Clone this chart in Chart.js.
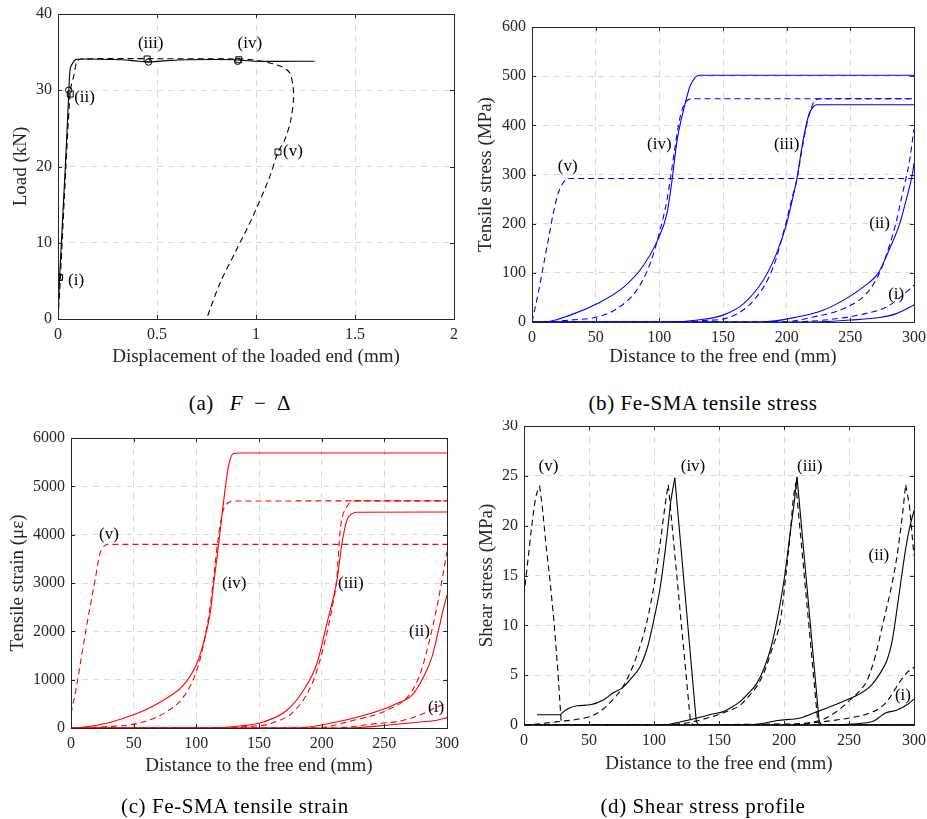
<!DOCTYPE html>
<html>
<head>
<meta charset="utf-8">
<script src="https://cdn.jsdelivr.net/npm/chart.js@4.4.1/dist/chart.umd.min.js"></script>
<style>
  body { margin: 0; background: #fff; width: 927px; height: 819px; position: relative; overflow: hidden; font-family: "Liberation Serif", serif; }
  canvas { position: absolute; }
  .cap { position: absolute; width: 400px; text-align: center; font-size: 21px; letter-spacing: 0.6px; line-height: 24px; color: #000; }
</style>
</head>
<body>
<canvas id="loadChart" width="470" height="380" style="left:0;top:0"></canvas>
<canvas id="stressChart" width="457" height="380" style="left:470px;top:0"></canvas>
<canvas id="strainChart" width="470" height="380" style="left:0;top:420px"></canvas>
<canvas id="shearChart" width="457" height="380" style="left:470px;top:420px"></canvas>
<div class="cap" style="left:40px;top:391px">(a)&ensp;&thinsp;<i>F</i>&thinsp; &minus; &thinsp;&Delta;</div>
<div class="cap" style="left:503px;top:391px">(b) Fe-SMA tensile stress</div>
<div class="cap" style="left:35px;top:794px">(c) Fe-SMA tensile strain</div>
<div class="cap" style="left:503px;top:794px">(d) Shear stress profile</div>
<script>
// stage names used for the annotations in every panel
const stageNames = ['(i)', '(ii)', '(iii)', '(iv)', '(v)'];

// (a) load vs displacement of the loaded end
const loadSolid = [[0,0],[0.008,5.4],[0.037,20],[0.053,28.8],[0.062,32.9],[0.087,34.0],[0.12,34.1],[0.32,34.0],[0.39,33.85],[0.457,33.7],[0.53,33.85],[0.66,34.0],[0.893,34.0],[0.994,33.8],[1.296,33.8]];
const loadDashed = [[0,0],[0.012,5.5],[0.04,20],[0.058,28.5],[0.066,30.5],[0.079,31.8],[0.096,33.8],[0.12,34.1],[0.5,34.14],[0.9,34.1],[0.98,34.0],[1.06,33.65],[1.128,33.1],[1.17,32.3],[1.187,30.5],[1.19,29],[1.175,26],[1.145,23.5],[1.11,21.8],[1.07,18.7],[0.985,13.5],[0.902,9.1],[0.818,4.7],[0.75,0]];
const loadSquares = [[0.008,5.46],[0.062,29.5],[0.45,34.1],[0.913,34.0],[1.111,21.9]];
const loadCircles = [[0.008,5.46],[0.054,30],[0.457,33.7],[0.907,33.8]];
const loadLabelPos = [[0.091,5.0],[0.134,29],[0.468,36.1],[0.969,36.1],[1.187,21.9]];
const loadTicksX = [0, 0.5, 1, 1.5, 2];
const loadTicksY = [0, 10, 20, 30, 40];

// (b) Fe-SMA tensile stress (MPa) vs distance to the free end (mm)
const stressSolidI = [[0,0],[220,0],[250,4],[273,9],[286,17],[296.6,30],[300,35]];
const stressDashedI = [[0,0],[200,0],[230,4],[260,16],[278,30],[289,50],[300,75]];
const stressSolidIi = [[0,0],[180,0],[207.8,10],[228.6,24],[244.3,44],[260,71],[272,100],[281,150],[288.8,200],[294,250],[298.7,300],[300,323]];
const stressDashedIi = [[0,0],[195,0],[220.8,10],[247,30],[262.7,58],[273,100],[280,150],[285.7,200],[290,250],[293.5,290],[296,320],[300,392]];
const stressSolidIii = [[0,0],[109,0],[130,4],[150,14],[166,37],[181.6,85],[192,139],[200,200],[205,255],[208,290],[211,340],[214,384],[217,418],[220,435],[224,442],[300,442]];
const stressDashedIii = [[0,0],[109,0],[135,3],[155.5,10],[176.4,51],[189.5,112],[198.7,194],[204,250],[208,290],[212,350],[216,405],[220,440],[223,452],[227,454],[300,454]];
const stressSolidIv = [[0,0],[9,0],[30,14],[51,37],[72,71],[87.5,115],[98,163],[106,221],[110,289],[114,370],[119,431],[124,479],[128,497],[131,502],[300,502]];
const stressDashedIv = [[0,0],[9,0],[30,4],[51,10],[66.6,27],[82.3,65],[92.8,119],[100.6,187],[106,248],[108.5,289],[112,350],[115,400],[118,433],[121.5,450],[126,454],[300,454]];
const stressDashedV = [[0,0],[5,60],[9,115],[13,170],[17,225],[21,265],[25,285],[28,292],[300,292]];
const stressLabelPos = [[286,56],[273,200],[200,360],[100,360],[28,316]];
const distTicks = [0, 50, 100, 150, 200, 250, 300];
const stressTicks = [0, 100, 200, 300, 400, 500, 600];

// (c) Fe-SMA tensile strain (micro-strain)
const strainSolidI = [[0,0],[220,0],[252,56],[278.7,125],[292,160],[300,215]];
const strainDashedI = [[0,0],[210,0],[238.8,77],[265.4,160],[281.3,298],[292,435],[300,510]];
const strainSolidIi = [[0,0],[180,0],[198.8,56],[238.8,298],[260,505],[273.3,713],[281.3,1058],[288,1470],[293,2000],[297,2450],[300,2750]];
const strainDashedIi = [[0,0],[195,0],[225.4,160],[252,367],[270.7,713],[278.7,1127],[286.7,1887],[292,2509],[296,3062],[300,3650]];
const strainSolidIii = [[0,0],[110,0],[135,40],[153.6,125],[172.2,367],[185.5,782],[196.2,1335],[204.2,2165],[212.2,3062],[216.2,3823],[220.2,4306],[224,4430],[228,4465],[300,4470]];
const strainDashedIii = [[0,0],[110,0],[140,30],[159,90],[180,402],[193.5,989],[201.5,1680],[209.5,2648],[212,3062],[214.8,4099],[220.2,4582],[224,4680],[228,4700],[300,4700]];
const strainSolidIv = [[0,0],[8,10],[30,110],[52.5,298],[73.7,574],[89.7,885],[100.4,1335],[105.6,1750],[111,2372],[114.2,3062],[117.6,3753],[121.6,4653],[125.6,5412],[129.6,5680],[133,5690],[300,5690]];
const strainDashedIv = [[0,0],[30,30],[52.5,90],[73.7,298],[89.7,643],[100.4,1196],[107,1887],[111,2509],[113.6,3062],[117.6,3960],[121.6,4514],[125,4650],[129,4695],[300,4700]];
const strainDashedV = [[0,300],[4,800],[8.5,1500],[13.8,2300],[19.2,3060],[23,3600],[26,3750],[29,3800],[300,3800]];
const strainLabelPos = [[291.3,423],[278,2005],[223.3,2994],[130.2,2994],[30.3,3995]];
const strainTicks = [0, 1000, 2000, 3000, 4000, 5000, 6000];

// (d) shear stress profile (MPa)
const shearSolidI = [[0,0],[230,0],[256,0.13],[265,0.25],[269,0.4],[273,0.75],[278,1.2],[287,1.5],[294.6,2.03],[300,2.6]];
const shearDashedI = [[0,0],[200,0],[228,0.3],[254,0.8],[266,1.2],[274.7,1.8],[280,2.5],[285,3.5],[290,4.5],[295,5.3],[300,5.8]];
const shearSolidIi = [[0,0],[175,0],[182,0.13],[195,0.45],[212.6,0.7],[222.8,1.2],[235,1.8],[248.5,2.54],[258,3.1],[266.4,3.87],[273,5.0],[279.2,6.5],[283,8.3],[285.7,10.5],[290,14.5],[294,18],[297,20],[300,21.5]];
const shearDashedIi = [[0,0],[200,0.1],[228.5,0.5],[240,1.3],[251,2.54],[258,3.4],[264,4.5],[270,6.8],[276.7,10.5],[282,13.5],[287,17],[291,21],[293.6,24.1],[296.5,22],[300,17]];
const shearSolidIii = [[0,0],[107.5,0],[120,0.3],[138,0.86],[145,1.1],[153.6,1.36],[160,1.8],[166.4,2.37],[172,3.1],[179.2,4.2],[185,5.8],[190,7.8],[194.6,10.5],[200,14.5],[205,19.5],[208,22.5],[210,24.9],[227,0.4],[229,0],[300,0]];
const shearDashedIii = [[0,0],[100,0],[125,0.2],[141,0.7],[155,1.3],[166.4,2.0],[173,2.9],[179.2,3.9],[185,5.4],[191,7.7],[197.2,10.5],[201,14.5],[205,19.5],[207,22.5],[209,24.3],[226,0.3],[228,0],[300,0]];
const shearSolidIv = [[10,1.03],[28,1.03],[29.2,1.2],[35,1.7],[40.8,1.93],[51,2.03],[61.3,2.54],[69,3.27],[75.4,3.7],[82,4.6],[89.5,5.9],[95,7.8],[99.8,10.5],[105,14],[110,19],[113,22.5],[116,24.8],[132.5,0.4],[134,0],[300,0]];
const shearDashedIv = [[0,0],[10,0.1],[28,0.36],[40,0.55],[51,0.86],[60,1.5],[68,2.5],[74.5,3.5],[80,4.8],[85,6.3],[90,8.2],[94.8,10.5],[100,14],[105,18.5],[109,22.5],[111,24.1],[128,0.4],[130,0],[300,0]];
const shearDashedV = [[0,13],[3,16.5],[6,20],[9,22.8],[12,24],[14,22],[17,18],[20,14.5],[23,10.5],[26,5.5],[28.5,0.5],[29,0.3],[30,0],[300,0]];
const shearLabelPos = [[291.5,2.97],[273,17],[219.8,25.9],[130,25.9],[18.8,25.9]];
const shearTicks = [0, 5, 10, 15, 20, 25, 30];

const axisColor = '#262626';
const tickFont = { family: 'Liberation Serif', size: 16 };
const titleFont = { family: 'Liberation Serif', size: 19 };

const pts = arr => arr.map(([x, y]) => ({ x, y }));

function curve(data, color, dashed) {
    return {
        data: pts(data),
        borderColor: color,
        borderWidth: 1.1,
        borderDash: dashed ? [6, 4] : [],
        pointRadius: 0,
        cubicInterpolationMode: 'monotone',
        fill: false,
    };
}

// shear curves: smooth rise up to the peak, straight drop after it (keeps the peak sharp)
function peakCurve(data, color, dashed) {
    let k = 0;
    data.forEach((p, i) => { if (p[1] > data[k][1]) k = i; });
    const rise = curve(data.slice(0, k + 1), color, dashed);
    const drop = { ...curve(data.slice(k), color, dashed), cubicInterpolationMode: 'default', tension: 0 };
    return k < data.length - 1 ? [rise, drop] : [rise];
}

// box around the plot area with MATLAB style inward ticks
const frameBox = {
    id: 'frameBox',
    afterDraw(chart) {
        const { ctx, chartArea: a, scales: { x, y } } = chart;
        ctx.save();
        ctx.strokeStyle = axisColor;
        ctx.lineWidth = 1;
        ctx.strokeRect(Math.round(a.left) + 0.5, Math.round(a.top) + 0.5, Math.round(a.right - a.left), Math.round(a.bottom - a.top));
        ctx.beginPath();
        x.ticks.forEach(t => {
            const px = Math.round(x.getPixelForValue(t.value)) + 0.5;
            ctx.moveTo(px, a.bottom); ctx.lineTo(px, a.bottom - 4);
            ctx.moveTo(px, a.top); ctx.lineTo(px, a.top + 4);
        });
        y.ticks.forEach(t => {
            const py = Math.round(y.getPixelForValue(t.value)) + 0.5;
            ctx.moveTo(a.left, py); ctx.lineTo(a.left + 4, py);
            ctx.moveTo(a.right, py); ctx.lineTo(a.right - 4, py);
        });
        ctx.stroke();
        ctx.restore();
    }
};

// (i) ... (v) annotations placed in data coordinates
const stageLabels = {
    id: 'stageLabels',
    afterDatasetsDraw(chart, args, opts) {
        const { ctx, scales: { x, y } } = chart;
        ctx.save();
        ctx.font = '17px "Liberation Serif"';
        ctx.fillStyle = '#000';
        ctx.textAlign = 'center';
        ctx.textBaseline = 'middle';
        opts.pos.forEach((p, i) => ctx.fillText(stageNames[i], x.getPixelForValue(p[0]), y.getPixelForValue(p[1])));
        ctx.restore();
    }
};

function axis(ticks, title, titlePad, fit) {
    return {
        type: 'linear',
        min: ticks[0],
        max: ticks[ticks.length - 1],
        afterBuildTicks: s => { s.ticks = ticks.map(v => ({ value: v })); },
        afterFit: fit,
        ticks: { font: tickFont, color: axisColor, padding: 6, maxRotation: 0, autoSkip: false, callback: v => String(v) },
        grid: { color: '#dadada', lineWidth: 1, drawTicks: false },
        border: { display: false, dash: [6, 5] },
        title: { display: true, text: title, font: titleFont, color: axisColor, padding: titlePad },
    };
}

function buildChart(id, w, h, area, datasets, xTicks, yTicks, xTitle, yTitle, xPad, yPad, labelPos) {
    const [l, t, r, b] = area;
    return new Chart(document.getElementById(id), {
        type: 'line',
        data: { datasets },
        options: {
            responsive: false,
            animation: false,
            layout: { padding: { left: 0, top: t, right: w - r, bottom: 0 } },
            plugins: { legend: { display: false }, tooltip: { enabled: false }, stageLabels: { pos: labelPos } },
            scales: {
                x: axis(xTicks, xTitle, { top: 0, bottom: xPad }, s => { s.height = h - b; s.paddingLeft = 0; s.paddingRight = 0; }),
                y: axis(yTicks, yTitle, { top: yPad, bottom: 0 }, s => { s.width = l; s.paddingTop = 0; s.paddingBottom = 0; }),
            },
        },
        plugins: [frameBox, stageLabels],
    });
}

const markers = (data, style, r) => ({
    data: pts(data), showLine: false, pointStyle: style, pointRadius: r,
    pointBorderColor: '#000', pointBackgroundColor: 'rgba(0,0,0,0)', pointBorderWidth: 1,
});

buildChart('loadChart', 470, 380, [58, 14, 454, 319], [
    { ...curve(loadSolid, '#000', false), cubicInterpolationMode: 'default', tension: 0.2 },
    { ...curve(loadDashed, '#000', true), cubicInterpolationMode: 'default', tension: 0.3 },
    markers(loadSquares, 'rect', 4.2),
    markers(loadCircles, 'circle', 3.2),
], loadTicksX, loadTicksY, 'Displacement of the loaded end (mm)', 'Load (kN)', 12, 10, loadLabelPos);

const blue = '#0000ff';
buildChart('stressChart', 457, 380, [62, 27, 444, 322], [
    curve(stressSolidI, blue, false), curve(stressDashedI, blue, true),
    curve(stressSolidIi, blue, false), curve(stressDashedIi, blue, true),
    curve(stressSolidIii, blue, false), curve(stressDashedIii, blue, true),
    curve(stressSolidIv, blue, false), curve(stressDashedIv, blue, true),
    curve(stressDashedV, blue, true),
], distTicks, stressTicks, 'Distance to the free end (mm)', 'Tensile stress (MPa)', 12, 5, stressLabelPos);

const red = '#ff0000';
buildChart('strainChart', 470, 380, [71, 18, 447, 308], [
    curve(strainSolidI, red, false), curve(strainDashedI, red, true),
    curve(strainSolidIi, red, false), curve(strainDashedIi, red, true),
    curve(strainSolidIii, red, false), curve(strainDashedIii, red, true),
    curve(strainSolidIv, red, false), curve(strainDashedIv, red, true),
    curve(strainDashedV, red, true),
], distTicks, strainTicks, 'Distance to the free end (mm)', 'Tensile strain (\u03BC\u03B5)', 23, 7, strainLabelPos);

buildChart('shearChart', 457, 380, [54, 6, 444, 305], [
    ...peakCurve(shearSolidI, '#000', false), ...peakCurve(shearDashedI, '#000', true),
    ...peakCurve(shearSolidIi, '#000', false), ...peakCurve(shearDashedIi, '#000', true),
    ...peakCurve(shearSolidIii, '#000', false), ...peakCurve(shearDashedIii, '#000', true),
    ...peakCurve(shearSolidIv, '#000', false), ...peakCurve(shearDashedIv, '#000', true),
    ...peakCurve(shearDashedV, '#000', true),
], distTicks, shearTicks, 'Distance to the free end (mm)', 'Shear stress (MPa)', 25, 6, shearLabelPos);
</script>
</body>
</html>
